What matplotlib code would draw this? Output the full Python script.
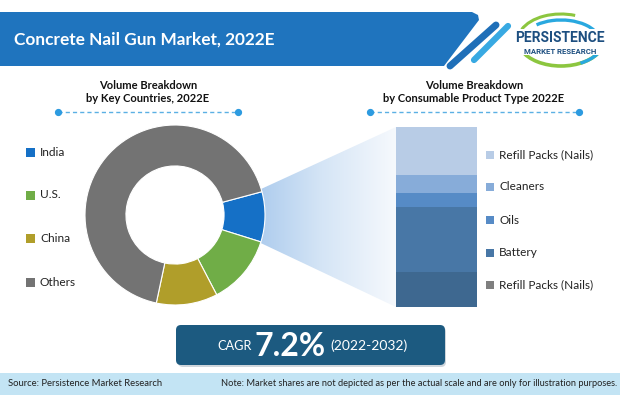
import numpy as np
import matplotlib
matplotlib.use("Agg")
import matplotlib.pyplot as plt
from matplotlib.patches import Polygon, Rectangle, FancyBboxPatch, Arc
from matplotlib.colors import LinearSegmentedColormap

# ---------------- data ----------------
title = "Concrete Nail Gun Market, 2022E"
countries = ["India", "U.S.", "China", "Others"]
country_share = [9.0, 12.5, 11.0, 67.5]
country_colors = ["#1570c6", "#70ad47", "#b09e2a", "#737373"]

product_types = ["Refill Packs (Nails)", "Battery", "Oils", "Cleaners", "Refill Packs (Nails)"]  # bottom -> top
product_share = [19.5, 36.0, 8.0, 10.0, 26.5]
product_colors = ["#3e6890", "#4877a6", "#568bc6", "#87acd9", "#b8cce6"]
product_legend_colors = ["#7f7f7f", "#4877a6", "#568bc6", "#87acd9", "#b8cce6"]

left_title = "Volume Breakdown\nby Key Countries, 2022E"
right_title = "Volume Breakdown\nby Consumable Product Type 2022E"
cagr_label, cagr_value, cagr_period = "CAGR", "7.2%", "(2022-2032)"
source_text = "Source: Persistence Market Research"
note_text = "Note: Market shares are not depicted as per the actual scale and are only for illustration purposes."

FONT = ["Lato", "DejaVu Sans"]
plt.rcParams['font.family'] = FONT

W, H = 620, 395
fig = plt.figure(figsize=(W / 100, H / 100), dpi=100)
fig.patch.set_facecolor("white")

def fr(x0, y0, x1, y1):
    return [x0 / W, 1 - y1 / H, (x1 - x0) / W, (y1 - y0) / H]

bg = fig.add_axes([0, 0, 1, 1])
bg.set_xlim(0, W)
bg.set_ylim(H, 0)
bg.axis("off")

# ---------------- header ----------------
hdr_col = "#1f74be"
bg.add_patch(Polygon([(0, 12), (472, 12), (478, 15), (479, 20), (444, 66), (0, 66)],
                     closed=True, facecolor=hdr_col, edgecolor="none", zorder=2))
bg.plot([450, 496], [66, 25], color="#1f6fb8", lw=5, solid_capstyle="round", zorder=3)
bg.plot([474, 508], [60, 26], color="#38a9e2", lw=4.5, solid_capstyle="round", zorder=3)
bg.text(14, 40, title, color="white", fontsize=12.4, fontweight="bold", va="center", ha="left", zorder=4)

# logo
bg.add_patch(Arc((561, 40), 86, 52, theta1=15, theta2=165, color="#8cc63f", lw=2.6, zorder=3))
bg.add_patch(Arc((561, 40), 86, 52, theta1=195, theta2=300, color="#8cc63f", lw=2.2, zorder=3))
bg.add_patch(Arc((561, 42), 78, 44, theta1=215, theta2=345, color="#29a8df", lw=2.4, zorder=3))
bg.add_patch(Arc((561, 40), 86, 52, theta1=20, theta2=50, color="#29a8df", lw=2.4, zorder=3))
bg.add_patch(Rectangle((514, 29), 94, 26, facecolor="white", edgecolor="none", zorder=3.5))
bg.text(560, 38, "PERSISTENCE", color="#1d4f80", fontsize=10, fontweight="bold",
        family=["Roboto", "DejaVu Sans"], ha="center", va="center", zorder=4)
bg.text(560, 51, "MARKET RESEARCH", color="#1d4f80", fontsize=5.6, fontweight="bold",
        family=["Roboto", "DejaVu Sans"], ha="center", va="center", zorder=4)

# ---------------- section titles with dotted rules ----------------
tcol = "#111111"
bg.text(148, 92, left_title, ha="center", va="center", fontsize=8.0, fontweight="bold",
        color=tcol, linespacing=1.3)
bg.text(474, 92, right_title, ha="center", va="center", fontsize=8.0, fontweight="bold",
        color=tcol, linespacing=1.3)
for x0, x1 in [(58, 238), (370, 579)]:
    bg.plot([x0, x1], [112, 112], color="#5bb0e4", lw=1.0, ls=(0, (3, 2.2)), zorder=2)
    bg.plot([x0, x1], [112, 112], "o", color="#2d9be0", ms=4.2, zorder=3)

# ---------------- funnel gradient ----------------
cmap = LinearSegmentedColormap.from_list("fun", ["#a7c8ec", "#d5e5f6", "#f6f9fd"])
grad = np.linspace(0, 1, 256).reshape(1, -1)
im = bg.imshow(grad, extent=[248, 396, 307, 127], cmap=cmap, aspect="auto", zorder=1,
               interpolation="bilinear")
poly = Polygon([(248, 195), (396, 127), (396, 307), (248, 237)], closed=True,
               transform=bg.transData)
im.set_clip_path(poly)
bg.set_xlim(0, W)
bg.set_ylim(H, 0)

# ---------------- donut ----------------
pax = fig.add_axes(fr(85, 125, 265, 305))
pax.pie(country_share, colors=country_colors, startangle=15, counterclock=False,
        radius=1.0, wedgeprops=dict(width=0.455, edgecolor="white", linewidth=0.8))
pax.set_xlim(-1, 1)
pax.set_ylim(-1, 1)
pax.set_aspect("equal")
pax.axis("off")

# left legend
leg_y = [152, 195, 238, 282]
for name, col, y in zip(countries, country_colors, leg_y):
    bg.add_patch(Rectangle((26, y - 4.5), 9, 9, facecolor=col, edgecolor="none"))
    bg.text(40, y, name, fontsize=8.6, color="#222222", va="center", ha="left")

# ---------------- stacked bar ----------------
bax = fig.add_axes(fr(396, 127, 477, 307))
bottom = 0
for v, c in zip(product_share, product_colors):
    bax.bar(0, v, bottom=bottom, width=1.0, color=c, edgecolor="none")
    bottom += v
bax.set_xlim(-0.5, 0.5)
bax.set_ylim(0, 100)
bax.axis("off")

# right legend (top -> bottom)
rleg_y = [155, 187, 220, 253, 285]
for name, col, y in zip(product_types[::-1], product_legend_colors[::-1], rleg_y):
    bg.add_patch(Rectangle((486, y - 3.8), 7.5, 7.5, facecolor=col, edgecolor="none"))
    bg.text(499, y, name, fontsize=8.5, color="#222222", va="center", ha="left")

# ---------------- CAGR box ----------------
bg.add_patch(FancyBboxPatch((178, 327), 268, 40, boxstyle="round,pad=0,rounding_size=5",
                            facecolor="#cfd6dc", edgecolor="none", zorder=2))
bg.add_patch(FancyBboxPatch((176, 325), 269, 40, boxstyle="round,pad=0,rounding_size=5",
                            facecolor="#1c5a80", edgecolor="none", zorder=3))
bg.text(217, 350, cagr_label, color="white", fontsize=9.2, va="baseline", ha="left", zorder=4)
bg.text(255, 356, cagr_value, color="white", fontsize=23, fontweight="bold",
        va="baseline", ha="left", zorder=4)
bg.text(330, 350, cagr_period, color="white", fontsize=10, va="baseline", ha="left", zorder=4)

# ---------------- footer ----------------
bg.add_patch(Rectangle((0, 373), W, 22, facecolor="#c3e4f4", edgecolor="none", zorder=2))
bg.text(8, 384, source_text, fontsize=6.8, color="#222222", va="center", ha="left", zorder=3)
bg.text(617, 384, note_text, fontsize=6.7, color="#222222", va="center", ha="right", zorder=3)

fig.savefig("out.png", dpi=100, facecolor="white")
